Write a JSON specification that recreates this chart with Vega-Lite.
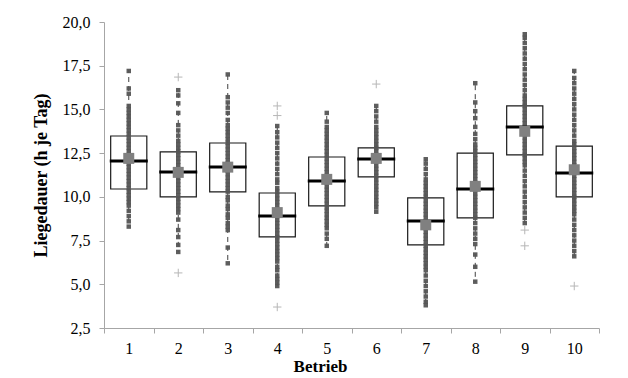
{
  "$schema": "https://vega.github.io/schema/vega-lite/v6.json",
  "width": 495,
  "height": 306,
  "autosize": {"type": "none"},
  "padding": {"left": 104, "top": 22, "right": 29, "bottom": 50},
  "background": "white",
  "config": {
    "view": {"stroke": null},
    "font": "Liberation Serif",
    "axis": {
      "labelFont": "Liberation Serif",
      "titleFont": "Liberation Serif",
      "labelColor": "#000000",
      "titleColor": "#000000",
      "domainColor": "#a6a6a6",
      "tickColor": "#a6a6a6",
      "grid": false
    }
  },
  "datasets": {
    "summary": [
      {"Betrieb": 1, "lo": 8.34, "q1": 10.45, "median": 12.05, "q3": 13.48, "hi": 17.25, "mean": 12.2},
      {"Betrieb": 2, "lo": 6.85, "q1": 10.0, "median": 11.42, "q3": 12.57, "hi": 16.1, "mean": 11.4},
      {"Betrieb": 3, "lo": 6.22, "q1": 10.28, "median": 11.71, "q3": 13.08, "hi": 17.0, "mean": 11.7},
      {"Betrieb": 4, "lo": 4.9, "q1": 7.71, "median": 8.9, "q3": 10.22, "hi": 14.05, "mean": 9.1},
      {"Betrieb": 5, "lo": 7.2, "q1": 9.48, "median": 10.9, "q3": 12.28, "hi": 14.8, "mean": 11.0},
      {"Betrieb": 6, "lo": 9.14, "q1": 11.14, "median": 12.17, "q3": 12.8, "hi": 15.2, "mean": 12.2},
      {"Betrieb": 7, "lo": 3.76, "q1": 7.25, "median": 8.62, "q3": 9.94, "hi": 12.17, "mean": 8.4},
      {"Betrieb": 8, "lo": 5.13, "q1": 8.8, "median": 10.45, "q3": 12.5, "hi": 16.5, "mean": 10.6},
      {"Betrieb": 9, "lo": 8.5, "q1": 12.4, "median": 14.0, "q3": 15.2, "hi": 19.3, "mean": 13.75},
      {"Betrieb": 10, "lo": 6.6, "q1": 10.0, "median": 11.37, "q3": 12.9, "hi": 17.2, "mean": 11.55}
    ],
    "outliers": [
      {"Betrieb": 2, "Wert": 16.85}, {"Betrieb": 2, "Wert": 5.65},
      {"Betrieb": 4, "Wert": 15.2}, {"Betrieb": 4, "Wert": 14.65}, {"Betrieb": 4, "Wert": 3.7},
      {"Betrieb": 6, "Wert": 16.45},
      {"Betrieb": 9, "Wert": 8.1}, {"Betrieb": 9, "Wert": 7.2},
      {"Betrieb": 10, "Wert": 4.9}
    ],
    "points": [
      {"Betrieb":1,"Wert":8.3},{"Betrieb":1,"Wert":8.6},{"Betrieb":1,"Wert":8.9},{"Betrieb":1,"Wert":9.2},{"Betrieb":1,"Wert":9.5},{"Betrieb":1,"Wert":9.7},{"Betrieb":1,"Wert":9.9},{"Betrieb":1,"Wert":10.1},{"Betrieb":1,"Wert":10.3},{"Betrieb":1,"Wert":10.5},{"Betrieb":1,"Wert":10.7},{"Betrieb":1,"Wert":10.9},{"Betrieb":1,"Wert":11.1},{"Betrieb":1,"Wert":11.3},{"Betrieb":1,"Wert":11.5},{"Betrieb":1,"Wert":11.7},{"Betrieb":1,"Wert":11.9},{"Betrieb":1,"Wert":12.0},{"Betrieb":1,"Wert":12.2},{"Betrieb":1,"Wert":12.4},{"Betrieb":1,"Wert":12.6},{"Betrieb":1,"Wert":12.8},{"Betrieb":1,"Wert":13.0},{"Betrieb":1,"Wert":13.2},{"Betrieb":1,"Wert":13.4},{"Betrieb":1,"Wert":13.6},{"Betrieb":1,"Wert":13.8},{"Betrieb":1,"Wert":14.0},{"Betrieb":1,"Wert":14.2},{"Betrieb":1,"Wert":14.4},{"Betrieb":1,"Wert":14.6},{"Betrieb":1,"Wert":14.8},{"Betrieb":1,"Wert":15.0},{"Betrieb":1,"Wert":15.2},{"Betrieb":1,"Wert":15.9},{"Betrieb":1,"Wert":16.2},{"Betrieb":1,"Wert":17.2},
      {"Betrieb":2,"Wert":6.85},{"Betrieb":2,"Wert":7.25},{"Betrieb":2,"Wert":7.7},{"Betrieb":2,"Wert":8.1},{"Betrieb":2,"Wert":8.7},{"Betrieb":2,"Wert":9.1},{"Betrieb":2,"Wert":9.3},{"Betrieb":2,"Wert":9.5},{"Betrieb":2,"Wert":9.7},{"Betrieb":2,"Wert":9.9},{"Betrieb":2,"Wert":10.1},{"Betrieb":2,"Wert":10.3},{"Betrieb":2,"Wert":10.5},{"Betrieb":2,"Wert":10.7},{"Betrieb":2,"Wert":10.9},{"Betrieb":2,"Wert":11.1},{"Betrieb":2,"Wert":11.3},{"Betrieb":2,"Wert":11.4},{"Betrieb":2,"Wert":11.6},{"Betrieb":2,"Wert":11.8},{"Betrieb":2,"Wert":12.0},{"Betrieb":2,"Wert":12.2},{"Betrieb":2,"Wert":12.4},{"Betrieb":2,"Wert":12.6},{"Betrieb":2,"Wert":12.8},{"Betrieb":2,"Wert":13.0},{"Betrieb":2,"Wert":13.2},{"Betrieb":2,"Wert":13.5},{"Betrieb":2,"Wert":13.8},{"Betrieb":2,"Wert":14.1},{"Betrieb":2,"Wert":14.8},{"Betrieb":2,"Wert":15.35},{"Betrieb":2,"Wert":15.8},{"Betrieb":2,"Wert":16.1},
      {"Betrieb":3,"Wert":6.2},{"Betrieb":3,"Wert":7.1},{"Betrieb":3,"Wert":8.1},{"Betrieb":3,"Wert":8.3},{"Betrieb":3,"Wert":8.5},{"Betrieb":3,"Wert":8.8},{"Betrieb":3,"Wert":9.0},{"Betrieb":3,"Wert":9.3},{"Betrieb":3,"Wert":9.5},{"Betrieb":3,"Wert":9.8},{"Betrieb":3,"Wert":10.0},{"Betrieb":3,"Wert":10.3},{"Betrieb":3,"Wert":10.5},{"Betrieb":3,"Wert":10.7},{"Betrieb":3,"Wert":10.9},{"Betrieb":3,"Wert":11.1},{"Betrieb":3,"Wert":11.3},{"Betrieb":3,"Wert":11.5},{"Betrieb":3,"Wert":11.7},{"Betrieb":3,"Wert":11.9},{"Betrieb":3,"Wert":12.1},{"Betrieb":3,"Wert":12.3},{"Betrieb":3,"Wert":12.5},{"Betrieb":3,"Wert":12.7},{"Betrieb":3,"Wert":12.9},{"Betrieb":3,"Wert":13.1},{"Betrieb":3,"Wert":13.3},{"Betrieb":3,"Wert":13.5},{"Betrieb":3,"Wert":13.7},{"Betrieb":3,"Wert":13.9},{"Betrieb":3,"Wert":14.1},{"Betrieb":3,"Wert":14.4},{"Betrieb":3,"Wert":14.8},{"Betrieb":3,"Wert":15.1},{"Betrieb":3,"Wert":15.4},{"Betrieb":3,"Wert":15.7},{"Betrieb":3,"Wert":17.0},
      {"Betrieb":4,"Wert":4.9},{"Betrieb":4,"Wert":5.1},{"Betrieb":4,"Wert":5.3},{"Betrieb":4,"Wert":5.5},{"Betrieb":4,"Wert":5.8},{"Betrieb":4,"Wert":6.0},{"Betrieb":4,"Wert":6.3},{"Betrieb":4,"Wert":6.5},{"Betrieb":4,"Wert":6.7},{"Betrieb":4,"Wert":6.9},{"Betrieb":4,"Wert":7.1},{"Betrieb":4,"Wert":7.3},{"Betrieb":4,"Wert":7.5},{"Betrieb":4,"Wert":7.7},{"Betrieb":4,"Wert":7.9},{"Betrieb":4,"Wert":8.1},{"Betrieb":4,"Wert":8.3},{"Betrieb":4,"Wert":8.5},{"Betrieb":4,"Wert":8.7},{"Betrieb":4,"Wert":8.9},{"Betrieb":4,"Wert":9.1},{"Betrieb":4,"Wert":9.3},{"Betrieb":4,"Wert":9.5},{"Betrieb":4,"Wert":9.7},{"Betrieb":4,"Wert":9.9},{"Betrieb":4,"Wert":10.1},{"Betrieb":4,"Wert":10.3},{"Betrieb":4,"Wert":10.5},{"Betrieb":4,"Wert":10.8},{"Betrieb":4,"Wert":11.0},{"Betrieb":4,"Wert":11.3},{"Betrieb":4,"Wert":11.6},{"Betrieb":4,"Wert":11.9},{"Betrieb":4,"Wert":12.2},{"Betrieb":4,"Wert":12.5},{"Betrieb":4,"Wert":12.8},{"Betrieb":4,"Wert":13.1},{"Betrieb":4,"Wert":13.4},{"Betrieb":4,"Wert":13.7},{"Betrieb":4,"Wert":14.05},
      {"Betrieb":5,"Wert":7.2},{"Betrieb":5,"Wert":7.6},{"Betrieb":5,"Wert":7.9},{"Betrieb":5,"Wert":8.2},{"Betrieb":5,"Wert":8.4},{"Betrieb":5,"Wert":8.6},{"Betrieb":5,"Wert":8.8},{"Betrieb":5,"Wert":9.0},{"Betrieb":5,"Wert":9.2},{"Betrieb":5,"Wert":9.4},{"Betrieb":5,"Wert":9.6},{"Betrieb":5,"Wert":9.8},{"Betrieb":5,"Wert":10.0},{"Betrieb":5,"Wert":10.2},{"Betrieb":5,"Wert":10.4},{"Betrieb":5,"Wert":10.6},{"Betrieb":5,"Wert":10.8},{"Betrieb":5,"Wert":11.0},{"Betrieb":5,"Wert":11.2},{"Betrieb":5,"Wert":11.4},{"Betrieb":5,"Wert":11.6},{"Betrieb":5,"Wert":11.8},{"Betrieb":5,"Wert":12.0},{"Betrieb":5,"Wert":12.2},{"Betrieb":5,"Wert":12.4},{"Betrieb":5,"Wert":12.6},{"Betrieb":5,"Wert":12.8},{"Betrieb":5,"Wert":13.0},{"Betrieb":5,"Wert":13.2},{"Betrieb":5,"Wert":13.4},{"Betrieb":5,"Wert":13.6},{"Betrieb":5,"Wert":13.8},{"Betrieb":5,"Wert":14.0},{"Betrieb":5,"Wert":14.3},{"Betrieb":5,"Wert":14.8},
      {"Betrieb":6,"Wert":9.15},{"Betrieb":6,"Wert":9.4},{"Betrieb":6,"Wert":9.6},{"Betrieb":6,"Wert":9.8},{"Betrieb":6,"Wert":10.0},{"Betrieb":6,"Wert":10.2},{"Betrieb":6,"Wert":10.4},{"Betrieb":6,"Wert":10.6},{"Betrieb":6,"Wert":10.8},{"Betrieb":6,"Wert":11.0},{"Betrieb":6,"Wert":11.2},{"Betrieb":6,"Wert":11.4},{"Betrieb":6,"Wert":11.6},{"Betrieb":6,"Wert":11.8},{"Betrieb":6,"Wert":12.0},{"Betrieb":6,"Wert":12.2},{"Betrieb":6,"Wert":12.4},{"Betrieb":6,"Wert":12.6},{"Betrieb":6,"Wert":12.8},{"Betrieb":6,"Wert":13.0},{"Betrieb":6,"Wert":13.2},{"Betrieb":6,"Wert":13.4},{"Betrieb":6,"Wert":13.6},{"Betrieb":6,"Wert":13.8},{"Betrieb":6,"Wert":14.0},{"Betrieb":6,"Wert":14.3},{"Betrieb":6,"Wert":14.6},{"Betrieb":6,"Wert":14.9},{"Betrieb":6,"Wert":15.2},
      {"Betrieb":7,"Wert":3.8},{"Betrieb":7,"Wert":4.0},{"Betrieb":7,"Wert":4.3},{"Betrieb":7,"Wert":4.6},{"Betrieb":7,"Wert":4.9},{"Betrieb":7,"Wert":5.2},{"Betrieb":7,"Wert":5.5},{"Betrieb":7,"Wert":5.8},{"Betrieb":7,"Wert":6.0},{"Betrieb":7,"Wert":6.2},{"Betrieb":7,"Wert":6.4},{"Betrieb":7,"Wert":6.6},{"Betrieb":7,"Wert":6.8},{"Betrieb":7,"Wert":7.0},{"Betrieb":7,"Wert":7.2},{"Betrieb":7,"Wert":7.4},{"Betrieb":7,"Wert":7.6},{"Betrieb":7,"Wert":7.8},{"Betrieb":7,"Wert":8.0},{"Betrieb":7,"Wert":8.2},{"Betrieb":7,"Wert":8.4},{"Betrieb":7,"Wert":8.6},{"Betrieb":7,"Wert":8.8},{"Betrieb":7,"Wert":9.0},{"Betrieb":7,"Wert":9.2},{"Betrieb":7,"Wert":9.4},{"Betrieb":7,"Wert":9.6},{"Betrieb":7,"Wert":9.8},{"Betrieb":7,"Wert":10.0},{"Betrieb":7,"Wert":10.2},{"Betrieb":7,"Wert":10.4},{"Betrieb":7,"Wert":10.6},{"Betrieb":7,"Wert":10.8},{"Betrieb":7,"Wert":11.0},{"Betrieb":7,"Wert":11.3},{"Betrieb":7,"Wert":11.6},{"Betrieb":7,"Wert":11.9},{"Betrieb":7,"Wert":12.15},
      {"Betrieb":8,"Wert":5.15},{"Betrieb":8,"Wert":6.0},{"Betrieb":8,"Wert":6.7},{"Betrieb":8,"Wert":7.3},{"Betrieb":8,"Wert":7.6},{"Betrieb":8,"Wert":7.9},{"Betrieb":8,"Wert":8.2},{"Betrieb":8,"Wert":8.5},{"Betrieb":8,"Wert":8.8},{"Betrieb":8,"Wert":9.0},{"Betrieb":8,"Wert":9.2},{"Betrieb":8,"Wert":9.4},{"Betrieb":8,"Wert":9.6},{"Betrieb":8,"Wert":9.8},{"Betrieb":8,"Wert":10.0},{"Betrieb":8,"Wert":10.2},{"Betrieb":8,"Wert":10.4},{"Betrieb":8,"Wert":10.6},{"Betrieb":8,"Wert":10.8},{"Betrieb":8,"Wert":11.0},{"Betrieb":8,"Wert":11.2},{"Betrieb":8,"Wert":11.4},{"Betrieb":8,"Wert":11.6},{"Betrieb":8,"Wert":11.8},{"Betrieb":8,"Wert":12.0},{"Betrieb":8,"Wert":12.2},{"Betrieb":8,"Wert":12.4},{"Betrieb":8,"Wert":12.6},{"Betrieb":8,"Wert":12.8},{"Betrieb":8,"Wert":13.0},{"Betrieb":8,"Wert":13.3},{"Betrieb":8,"Wert":13.6},{"Betrieb":8,"Wert":14.0},{"Betrieb":8,"Wert":14.5},{"Betrieb":8,"Wert":14.9},{"Betrieb":8,"Wert":15.4},{"Betrieb":8,"Wert":16.5},
      {"Betrieb":9,"Wert":8.5},{"Betrieb":9,"Wert":8.8},{"Betrieb":9,"Wert":9.1},{"Betrieb":9,"Wert":9.4},{"Betrieb":9,"Wert":9.7},{"Betrieb":9,"Wert":10.0},{"Betrieb":9,"Wert":10.3},{"Betrieb":9,"Wert":10.6},{"Betrieb":9,"Wert":10.9},{"Betrieb":9,"Wert":11.2},{"Betrieb":9,"Wert":11.5},{"Betrieb":9,"Wert":11.8},{"Betrieb":9,"Wert":12.0},{"Betrieb":9,"Wert":12.2},{"Betrieb":9,"Wert":12.4},{"Betrieb":9,"Wert":12.6},{"Betrieb":9,"Wert":12.8},{"Betrieb":9,"Wert":13.0},{"Betrieb":9,"Wert":13.2},{"Betrieb":9,"Wert":13.4},{"Betrieb":9,"Wert":13.6},{"Betrieb":9,"Wert":13.8},{"Betrieb":9,"Wert":14.0},{"Betrieb":9,"Wert":14.2},{"Betrieb":9,"Wert":14.4},{"Betrieb":9,"Wert":14.6},{"Betrieb":9,"Wert":14.8},{"Betrieb":9,"Wert":15.0},{"Betrieb":9,"Wert":15.2},{"Betrieb":9,"Wert":15.4},{"Betrieb":9,"Wert":15.6},{"Betrieb":9,"Wert":15.8},{"Betrieb":9,"Wert":16.1},{"Betrieb":9,"Wert":16.4},{"Betrieb":9,"Wert":16.7},{"Betrieb":9,"Wert":17.0},{"Betrieb":9,"Wert":17.3},{"Betrieb":9,"Wert":17.6},{"Betrieb":9,"Wert":17.9},{"Betrieb":9,"Wert":18.2},{"Betrieb":9,"Wert":18.5},{"Betrieb":9,"Wert":18.8},{"Betrieb":9,"Wert":19.1},{"Betrieb":9,"Wert":19.3},
      {"Betrieb":10,"Wert":6.6},{"Betrieb":10,"Wert":6.9},{"Betrieb":10,"Wert":7.2},{"Betrieb":10,"Wert":7.5},{"Betrieb":10,"Wert":7.8},{"Betrieb":10,"Wert":8.1},{"Betrieb":10,"Wert":8.4},{"Betrieb":10,"Wert":8.7},{"Betrieb":10,"Wert":9.0},{"Betrieb":10,"Wert":9.2},{"Betrieb":10,"Wert":9.4},{"Betrieb":10,"Wert":9.6},{"Betrieb":10,"Wert":9.8},{"Betrieb":10,"Wert":10.0},{"Betrieb":10,"Wert":10.2},{"Betrieb":10,"Wert":10.4},{"Betrieb":10,"Wert":10.6},{"Betrieb":10,"Wert":10.8},{"Betrieb":10,"Wert":11.0},{"Betrieb":10,"Wert":11.2},{"Betrieb":10,"Wert":11.4},{"Betrieb":10,"Wert":11.6},{"Betrieb":10,"Wert":11.8},{"Betrieb":10,"Wert":12.0},{"Betrieb":10,"Wert":12.2},{"Betrieb":10,"Wert":12.4},{"Betrieb":10,"Wert":12.6},{"Betrieb":10,"Wert":12.8},{"Betrieb":10,"Wert":13.0},{"Betrieb":10,"Wert":13.2},{"Betrieb":10,"Wert":13.5},{"Betrieb":10,"Wert":13.8},{"Betrieb":10,"Wert":14.1},{"Betrieb":10,"Wert":14.4},{"Betrieb":10,"Wert":14.7},{"Betrieb":10,"Wert":15.0},{"Betrieb":10,"Wert":15.3},{"Betrieb":10,"Wert":15.6},{"Betrieb":10,"Wert":15.9},{"Betrieb":10,"Wert":16.2},{"Betrieb":10,"Wert":16.5},{"Betrieb":10,"Wert":16.8},{"Betrieb":10,"Wert":17.2}
    ]
  },
  "encoding": {
    "x": {
      "field": "Betrieb",
      "type": "ordinal",
      "scale": {"type": "band", "domain": [1,2,3,4,5,6,7,8,9,10], "paddingInner": 0, "paddingOuter": 0},
      "axis": {
        "title": "Betrieb",
        "labelAngle": 0,
        "labelFontSize": 16,
        "titleFontSize": 17,
        "titleFontWeight": "bold",
        "tickBand": "extent",
        "tickSize": 5,
        "labelPadding": 7,
        "titlePadding": 2,
        "titleX": 216
      }
    }
  },
  "layer": [
    {
      "data": {"name": "summary"},
      "mark": {"type": "bar", "width": {"band": 0.73}, "fill": "white", "fillOpacity": 0, "stroke": "#1a1a1a", "strokeWidth": 1.2},
      "encoding": {
        "y": {
          "field": "q3",
          "type": "quantitative",
          "scale": {"domain": [2.5, 20], "nice": false, "zero": false},
          "axis": {
            "title": "Liegedauer (h je Tag)",
            "values": [2.5, 5, 7.5, 10, 12.5, 15, 17.5, 20],
            "labelExpr": "replace(format(datum.value, '.1f'), '.', ',')",
            "labelFontSize": 16,
            "titleFontSize": 18,
            "titleFontWeight": "bold",
            "tickSize": 5,
            "labelPadding": 9,
            "titlePadding": 12
          }
        },
        "y2": {"field": "q1"}
      }
    },
    {
      "data": {"name": "summary"},
      "mark": {"type": "rule", "color": "#404040", "strokeWidth": 1, "strokeDash": [5, 4]},
      "encoding": {
        "y": {"field": "q3", "type": "quantitative"},
        "y2": {"field": "hi"}
      }
    },
    {
      "data": {"name": "summary"},
      "mark": {"type": "rule", "color": "#404040", "strokeWidth": 1, "strokeDash": [5, 4]},
      "encoding": {
        "y": {"field": "q1", "type": "quantitative"},
        "y2": {"field": "lo"}
      }
    },
    {
      "data": {"name": "points"},
      "mark": {"type": "square", "size": 20, "color": "#555555", "opacity": 0.95},
      "encoding": {
        "y": {"field": "Wert", "type": "quantitative"}
      }
    },
    {
      "data": {"name": "outliers"},
      "mark": {"type": "point", "shape": "M-1,0H1M0,-1V1", "size": 70, "filled": false, "stroke": "#999999", "strokeWidth": 1},
      "encoding": {
        "y": {"field": "Wert", "type": "quantitative"}
      }
    },
    {
      "data": {"name": "summary"},
      "mark": {"type": "tick", "orient": "horizontal", "size": 38, "thickness": 3, "color": "#000000", "opacity": 1},
      "encoding": {
        "y": {"field": "median", "type": "quantitative"}
      }
    },
    {
      "data": {"name": "summary"},
      "mark": {"type": "square", "size": 121, "color": "#808080", "opacity": 1},
      "encoding": {
        "y": {"field": "mean", "type": "quantitative"}
      }
    }
  ]
}
